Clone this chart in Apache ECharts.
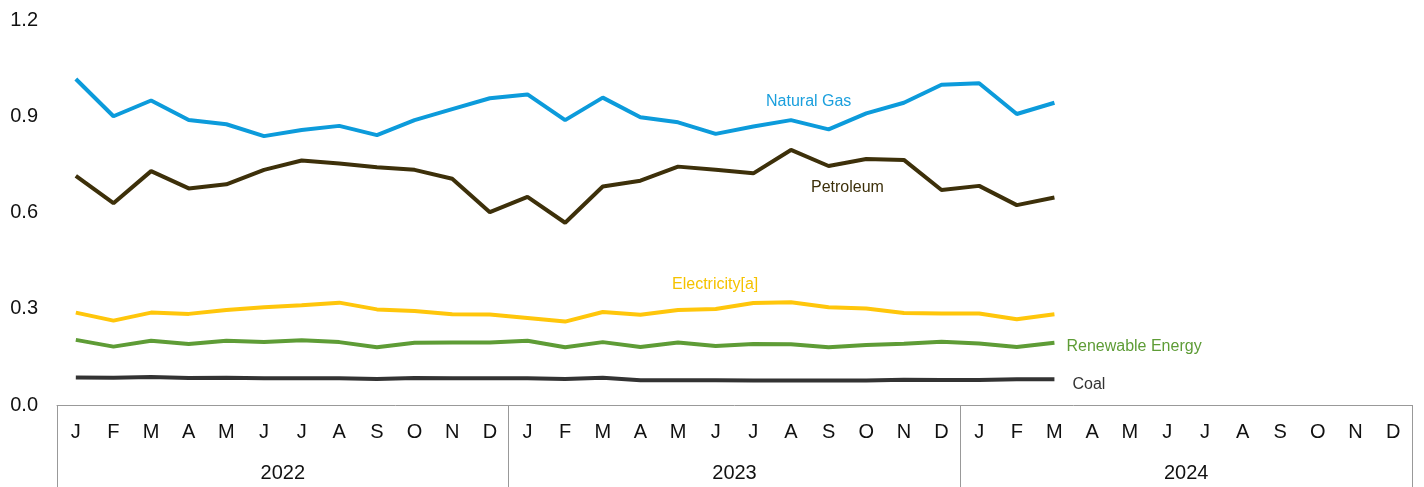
<!DOCTYPE html>
<html>
<head>
<meta charset="utf-8">
<script src="https://cdn.jsdelivr.net/npm/echarts@6/dist/echarts.min.js"></script>
<style>
  html, body { margin: 0; padding: 0; background: #fff; }
  #chart { width: 1424px; height: 487px; }
</style>
</head>
<body>
<div id="chart"></div>
<script>
// month letters, three years of slots; data runs Jan 2022 - Mar 2024
var monthLetters = ['J', 'F', 'M', 'A', 'M', 'J', 'J', 'A', 'S', 'O', 'N', 'D'];
var years = ['2022', '2023', '2024'];
var months = [];
years.forEach(function (y) {
    monthLetters.forEach(function (m, i) { months.push(y + '-' + (i + 1)); });
});

var naturalGas = [1.016, 0.900, 0.949, 0.888, 0.875, 0.838, 0.857, 0.870, 0.841, 0.888, 0.922, 0.956,
                  0.968, 0.888, 0.958, 0.897, 0.881, 0.845, 0.868, 0.888, 0.859, 0.909, 0.942, 0.998,
                  1.003, 0.907, 0.942];
var petroleum = [0.714, 0.629, 0.729, 0.675, 0.688, 0.733, 0.762, 0.753, 0.741, 0.733, 0.705, 0.601,
                 0.649, 0.568, 0.681, 0.699, 0.743, 0.733, 0.722, 0.795, 0.745, 0.767, 0.764, 0.670,
                 0.683, 0.623, 0.647];
var electricity = [0.288, 0.263, 0.288, 0.284, 0.296, 0.305, 0.311, 0.319, 0.298, 0.293, 0.283, 0.282,
                   0.271, 0.260, 0.290, 0.281, 0.296, 0.299, 0.318, 0.320, 0.305, 0.301, 0.287, 0.285,
                   0.285, 0.267, 0.283];
var renewable = [0.203, 0.182, 0.200, 0.190, 0.200, 0.196, 0.202, 0.196, 0.180, 0.194, 0.195, 0.195,
                 0.200, 0.180, 0.196, 0.181, 0.195, 0.184, 0.190, 0.189, 0.180, 0.187, 0.191, 0.197,
                 0.192, 0.181, 0.194];
var coal = [0.086, 0.085, 0.087, 0.084, 0.085, 0.083, 0.083, 0.083, 0.081, 0.084, 0.083, 0.083,
            0.083, 0.081, 0.085, 0.077, 0.077, 0.077, 0.076, 0.076, 0.076, 0.076, 0.079, 0.078,
            0.078, 0.080, 0.080];

var font = 'Liberation Sans, Arial, sans-serif';

function line(name, data, color) {
    return {
        name: name,
        type: 'line',
        data: data,
        symbol: 'none',
        lineStyle: { color: color, width: 4 },
        itemStyle: { color: color },
        xAxisIndex: 0,
        animation: false
    };
}

var chart = echarts.init(document.getElementById('chart'));
var series = [
    line('Natural Gas', naturalGas, '#0C9BDB'),
    line('Petroleum', petroleum, '#3D300A'),
    line('Electricity[a]', electricity, '#FFC60B'),
    line('Renewable Energy', renewable, '#5E9C36'),
    line('Coal', coal, '#333333')
];
series[3].endLabel = { show: true, formatter: '{a}', color: '#5E9C36', fontSize: 16, fontFamily: font, distance: 12, offset: [0, 4] };
series[4].endLabel = { show: true, formatter: '{a}', color: '#333333', fontSize: 16, fontFamily: font, distance: 18, offset: [0, 5] };

chart.setOption({
    backgroundColor: '#fff',
    animation: false,
    grid: { left: 57, right: 12, top: 20, bottom: 82, containLabel: false },
    xAxis: [{
        type: 'category',
        data: months,
        boundaryGap: true,
        axisLine: { lineStyle: { color: '#999999', width: 1 } },
        axisTick: { inside: true, length: 5, alignWithLabel: true, lineStyle: { color: '#888888' } },
        axisLabel: {
            interval: 0, margin: 17, color: '#111', fontSize: 20, fontFamily: font,
            formatter: function (v) { return monthLetters[parseInt(v.split('-')[1], 10) - 1]; }
        }
    }, {
        type: 'category',
        data: years,
        position: 'bottom',
        boundaryGap: true,
        axisLine: { show: false },
        axisTick: { show: true, length: 82, interval: 0, lineStyle: { color: '#999999' } },
        axisLabel: { margin: 58, color: '#111', fontSize: 20, fontFamily: font }
    }],
    yAxis: {
        type: 'value',
        min: 0,
        max: 1.2,
        interval: 0.3,
        splitLine: { show: false },
        axisLine: { show: false },
        axisTick: { show: false },
        axisLabel: {
            margin: 19, color: '#111', fontSize: 20, fontFamily: font,
            formatter: function (v) { return v.toFixed(1); }
        }
    },
    series: series,
    graphic: [
        { type: 'text', left: 766, top: 94, style: { text: 'Natural Gas', fill: '#1A9FDD', fontSize: 16, fontFamily: font } },
        { type: 'text', left: 811, top: 180, style: { text: 'Petroleum', fill: '#3D300A', fontSize: 16, fontFamily: font } },
        { type: 'text', left: 672, top: 277, style: { text: 'Electricity[a]', fill: '#F5C200', fontSize: 16, fontFamily: font } }
    ]
});

window.onresize = function () {
    setTimeout(function () { chart.resize(); }, 200);
};
</script>
</body>
</html>
